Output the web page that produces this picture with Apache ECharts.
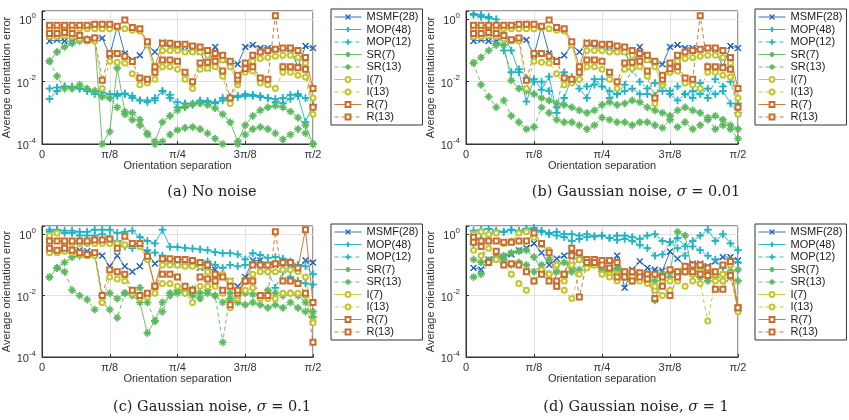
<!DOCTYPE html>
<html>
<head>
<meta charset="utf-8">
<script src="https://cdn.jsdelivr.net/npm/echarts@6/dist/echarts.min.js"></script>
<style>
html, body { margin: 0; padding: 0; background: #fff; }
#main { width: 849px; height: 420px; }
</style>
</head>
<body>
<div id="main"></div>
<script>
// orientation separation in degrees (0 .. pi/2)
var sep = [2.5,5,7.5,10,12.5,15,17.5,20,22.5,25,27.5,30,32.5,35,37.5,40,42.5,45,47.5,50,52.5,55,57.5,60,62.5,65,67.5,70,72.5,75,77.5,80,82.5,85,87.5,90];
var xTickLabels = ['0', 'π/8', 'π/4', '3π/8', 'π/2'];
var seriesNames = ['MSMF(28)', 'MOP(48)', 'MOP(12)', 'SR(7)', 'SR(13)', 'I(7)', 'I(13)', 'R(7)', 'R(13)'];
var captions = ['(a) No noise', '(b) Gaussian noise, ', '(c) Gaussian noise, ', '(d) Gaussian noise, '];
var sigmas = ['', '0.01', '0.1', '1'];

// (a) no noise
var msmfA = [0.2,0.22,0.2,0.2,0.25,0.22,0.25,0.25,0.07,0.6,0.08,0.05,0.07,0.15,0.09,0.18,0.12,0.12,0.1,0.1,0.09,0.027,0.13,0.05,0.04,0.036,0.13,0.15,0.12,0.12,0.11,0.12,0.11,0.03,0.14,0.12];
var mop48A = [0.0028,0.005,0.007,0.007,0.006,0.005,0.004,0.0035,0.003,0.0035,0.004,0.0035,0.0025,0.0025,0.0025,0.005,0.003,0.0015,0.0015,0.0018,0.0022,0.0022,0.002,0.0025,0.003,0.0032,0.0035,0.0035,0.0035,0.003,0.0028,0.002,0.0028,0.0035,0.0005,0.0018];
var mop12A = [0.006,0.0065,0.007,0.0065,0.006,0.0055,0.005,0.0045,0.004,0.004,0.0042,0.003,0.0025,0.0022,0.003,0.005,0.0038,0.0022,0.002,0.002,0.0025,0.0024,0.0022,0.003,0.0032,0.0035,0.004,0.0038,0.0032,0.003,0.0022,0.003,0.0038,0.004,0.003,0.0015];
var sr7A = [0.045,0.09,0.13,0.17,0.2,0.23,0.25,0.0001,0.00025,0.027,0.0011,0.001,0.0006,0.00022,0.00012,0.0005,0.0008,0.0012,0.0016,0.0019,0.002,0.0018,0.0014,0.0009,0.0005,0.00012,0.0004,0.0008,0.0012,0.0015,0.0017,0.0015,0.0011,0.0007,0.0004,0.0001];
var sr13A = [0.045,0.015,0.006,0.006,0.008,0.006,0.005,0.0033,0.003,0.0015,0.0009,0.0006,0.0004,0.0002,0.0001,0.00012,0.0002,0.00028,0.00033,0.00035,0.0003,0.00022,0.00015,0.0001,0.00006,0.0001,0.0002,0.0003,0.00035,0.0003,0.00022,0.00014,0.0002,0.0003,0.00022,0.0001];
var i7A = [0.5,0.5,0.5,0.5,0.5,0.5,0.5,0.5,0.5,0.55,0.5,0.45,0.42,0.15,0.02,0.1,0.1,0.1,0.09,0.09,0.09,0.07,0.05,0.05,0.03,0.008,0.03,0.045,0.055,0.06,0.065,0.07,0.07,0.06,0.04,0.003];
var i13A = [0.28,0.28,0.3,0.28,0.24,0.2,0.2,0.006,0.045,0.042,0.04,0.018,0.008,0.009,0.012,0.03,0.03,0.025,0.012,0.006,0.025,0.027,0.03,0.015,0.002,0.01,0.02,0.022,0.009,0.008,0.006,0.02,0.02,0.016,0.014,0.0009];
var r7A = [0.65,0.65,0.65,0.65,0.65,0.65,0.7,0.7,0.7,0.6,0.95,0.55,0.5,0.19,0.03,0.17,0.17,0.16,0.16,0.14,0.13,0.1,0.08,0.07,0.045,0.012,0.04,0.07,0.09,0.1,0.11,0.12,0.12,0.1,0.06,0.006];
var r13A = [0.35,0.35,0.38,0.35,0.3,0.22,0.25,0.011,0.08,0.08,0.065,0.044,0.013,0.012,0.02,0.05,0.05,0.045,0.02,0.01,0.04,0.042,0.045,0.022,0.003,0.016,0.026,0.03,0.013,0.012,1.3,0.03,0.03,0.028,0.025,0.0015];

// (b) sigma = 0.01
var msmfB = [0.2,0.22,0.2,0.2,0.25,0.22,0.25,0.22,0.07,0.6,0.08,0.05,0.07,0.15,0.09,0.18,0.12,0.12,0.1,0.1,0.09,0.03,0.13,0.05,0.04,0.036,0.13,0.15,0.12,0.12,0.11,0.12,0.11,0.03,0.14,0.12];
var mop48B = [1.4,1.2,1.1,1.0,0.3,0.1,0.02,0.0023,0.012,0.0055,0.0145,0.001,0.003,0.014,0.006,0.003,0.012,0.007,0.005,0.004,0.005,0.006,0.004,0.004,0.0035,0.008,0.004,0.0025,0.004,0.005,0.004,0.006,0.004,0.005,0.002,0.001];
var mop12B = [1.5,1.4,1.2,0.3,0.1,0.02,0.025,0.013,0.01,0.01,0.005,0.0015,0.02,0.01,0.012,0.007,0.008,0.012,0.003,0.004,0.008,0.025,0.01,0.006,0.009,0.005,0.005,0.007,0.004,0.003,0.009,0.003,0.012,0.007,0.01,0.002];
var sr7B = [0.04,0.06,0.1,0.15,0.15,0.011,0.006,0.005,0.004,0.003,0.0025,0.002,0.0018,0.0015,0.0012,0.001,0.0012,0.0018,0.0022,0.0018,0.002,0.0025,0.0022,0.0015,0.0012,0.001,0.0008,0.0012,0.0015,0.0012,0.001,0.0006,0.0008,0.0006,0.0004,0.0003];
var sr13B = [0.04,0.008,0.0033,0.0015,0.0025,0.0008,0.0005,0.0003,0.00035,0.0015,0.001,0.0006,0.0005,0.0005,0.0004,0.0003,0.0004,0.0007,0.0006,0.0005,0.0005,0.0004,0.0005,0.0005,0.0004,0.00033,0.0006,0.00035,0.0005,0.0003,0.0004,0.0007,0.0003,0.0004,0.0003,0.00015];
var i7B = [0.5,0.5,0.5,0.5,0.5,0.5,0.5,0.5,0.5,0.55,0.5,0.45,0.42,0.15,0.02,0.1,0.1,0.1,0.09,0.09,0.09,0.07,0.05,0.05,0.03,0.008,0.03,0.045,0.055,0.06,0.065,0.07,0.07,0.06,0.04,0.003];
var i13B = [0.28,0.28,0.3,0.28,0.24,0.2,0.2,0.006,0.045,0.042,0.04,0.018,0.008,0.009,0.012,0.03,0.03,0.025,0.012,0.006,0.025,0.027,0.03,0.015,0.002,0.01,0.02,0.022,0.009,0.008,0.006,0.02,0.02,0.016,0.014,0.0009];
var r7B = [0.65,0.65,0.65,0.65,0.65,0.65,0.7,0.7,0.7,0.6,0.95,0.55,0.5,0.19,0.03,0.17,0.17,0.16,0.16,0.14,0.13,0.1,0.08,0.07,0.045,0.012,0.04,0.07,0.09,0.1,0.11,0.12,0.12,0.1,0.06,0.006];
var r13B = [0.35,0.35,0.38,0.35,0.3,0.22,0.25,0.011,0.08,0.08,0.065,0.044,0.013,0.012,0.02,0.05,0.05,0.045,0.02,0.01,0.04,0.042,0.045,0.022,0.003,0.016,0.026,0.03,0.013,0.012,1.3,0.03,0.03,0.028,0.025,0.0015];

// (c) sigma = 0.1
var msmfC = [0.3,0.3,0.3,0.3,0.3,0.28,0.25,0.2,0.09,0.2,0.09,0.06,0.09,0.25,0.11,0.16,0.12,0.1,0.1,0.1,0.08,0.07,0.07,0.04,0.03,0.02,0.04,0.14,0.14,0.1,0.1,0.09,0.1,0.07,0.14,0.12];
var mop48C = [1.4,1.4,1.3,1.3,1.2,1.2,1.4,1.4,1.4,1.1,1.2,1.3,0.8,0.6,0.5,1.4,0.39,0.38,0.36,0.34,0.32,0.3,0.26,0.24,0.24,0.22,0.15,0.24,0.21,0.17,0.18,0.16,0.13,0.1,0.09,0.05];
var mop12C = [1.2,1.3,1.1,1.1,0.9,0.9,0.9,1.0,0.8,0.6,0.4,0.35,0.5,0.3,0.25,0.2,0.11,0.1,0.12,0.1,0.1,0.13,0.1,0.08,0.1,0.09,0.1,0.12,0.1,0.06,0.018,0.06,0.04,0.03,0.025,0.023];
var sr7C = [0.04,0.08,0.12,0.18,0.2,0.22,0.22,0.01,0.012,0.008,0.012,0.01,0.006,0.0006,0.0015,0.006,0.01,0.012,0.012,0.01,0.008,0.012,0.01,0.006,0.008,0.006,0.005,0.006,0.005,0.004,0.005,0.004,0.006,0.004,0.003,0.003];
var sr13C = [0.04,0.08,0.06,0.015,0.01,0.0074,0.0035,0.006,0.0035,0.0019,0.012,0.012,0.018,0.006,0.0015,0.003,0.012,0.015,0.014,0.016,0.012,0.015,0.01,0.0003,0.012,0.012,0.012,0.011,0.01,0.015,0.012,0.01,0.012,0.01,0.006,0.002];
var i7C = [0.9,1.1,0.5,0.5,0.5,0.5,0.5,0.5,0.5,0.5,0.45,0.45,0.4,0.15,0.02,0.1,0.1,0.1,0.09,0.09,0.09,0.06,0.05,0.05,0.03,0.008,0.03,0.05,0.06,0.06,0.06,0.07,0.07,0.06,0.04,0.0014];
var i13C = [0.25,0.25,0.28,0.25,0.22,0.2,0.2,0.006,0.04,0.035,0.03,0.012,0.008,0.009,0.012,0.025,0.025,0.02,0.012,0.006,0.02,0.02,0.02,0.012,0.004,0.01,0.015,0.018,0.008,0.008,0.008,0.012,0.012,0.012,0.01,0.0013];
var r7C = [0.6,0.6,0.6,0.6,0.6,0.6,0.65,0.65,0.7,0.35,0.85,0.5,0.5,0.19,0.02,0.16,0.16,0.15,0.15,0.14,0.12,0.1,0.05,0.04,0.02,0.012,0.03,0.1,0.1,0.1,0.11,0.12,0.12,0.08,1.4,0.006];
var r13C = [0.35,0.3,0.35,0.3,0.25,0.22,0.25,0.01,0.07,0.06,0.05,0.015,0.01,0.012,0.02,0.05,0.05,0.04,0.02,0.015,0.04,0.035,0.03,0.015,0.005,0.015,0.03,0.03,0.01,0.01,1.2,0.03,0.03,0.025,0.012,0.0003];

// (d) sigma = 1
var msmfD = [0.08,0.07,0.15,0.16,0.18,0.22,0.3,0.35,0.5,0.25,0.1,0.16,0.2,0.3,0.2,0.15,0.1,0.1,0.08,0.2,0.018,0.07,0.13,0.08,0.07,0.065,0.27,0.16,0.09,0.11,0.11,0.09,0.13,0.18,0.18,0.14];
var mop48D = [1.3,1.4,1.5,1.3,1.2,1.4,1.2,1.5,1.4,1.3,1.1,1.2,1.0,1.0,0.9,1.0,0.85,0.9,0.75,0.9,0.9,0.8,0.7,0.9,1.0,0.6,0.55,0.75,0.4,0.6,0.9,1.4,0.6,1.0,0.5,0.3];
var mop12D = [0.5,0.7,1.0,1.2,1.2,1.4,1.3,1.5,1.6,1.2,1.0,0.9,0.8,0.6,0.7,0.8,0.85,0.9,0.75,0.65,0.7,0.6,0.45,0.35,0.2,0.22,0.55,0.35,0.2,0.4,0.3,0.2,0.15,0.08,0.15,0.12];
var sr7D = [0.15,0.12,0.14,0.17,0.2,0.25,0.28,0.3,0.18,0.07,0.15,0.1,0.12,0.08,0.15,0.09,0.12,0.07,0.06,0.08,0.05,0.04,0.05,0.05,0.007,0.05,0.06,1.2,0.9,0.05,0.08,0.06,0.04,0.05,0.06,0.07];
var sr13D = [0.04,0.05,0.12,0.18,0.15,0.1,0.12,0.1,0.06,0.1,0.05,0.06,0.04,0.06,0.07,0.12,0.1,0.06,0.05,0.07,0.04,0.03,0.05,0.04,0.03,0.05,0.04,0.05,0.06,0.1,0.04,0.03,0.05,0.03,0.04,0.03];
var i7D = [1.0,1.2,1.0,1.1,0.5,0.6,1.1,1.2,0.8,0.45,0.3,0.1,0.03,0.1,0.15,0.12,0.1,0.1,0.05,0.05,0.06,0.04,0.04,0.05,0.015,0.03,0.03,0.06,0.06,0.05,0.06,0.05,0.05,0.03,0.1,0.0035];
var i13D = [0.3,0.2,0.35,0.15,0.1,0.05,0.025,0.015,0.03,0.07,0.05,0.02,0.015,0.008,0.05,0.08,0.1,0.05,0.04,0.03,0.05,0.04,0.03,0.025,0.02,0.01,0.015,0.03,0.02,0.03,0.025,0.0015,0.03,0.05,0.05,0.003];
var r7D = [0.8,0.6,0.6,0.6,0.55,0.55,0.6,0.6,1.1,0.5,0.25,0.03,0.05,0.2,0.25,0.15,0.15,0.14,0.14,0.12,0.06,0.06,0.055,0.05,0.05,0.04,0.07,0.06,0.09,0.1,0.1,0.08,0.06,0.1,0.13,0.004];
var r13D = [0.55,0.4,0.12,0.28,0.1,0.11,0.1,0.06,0.03,0.05,0.03,0.02,0.05,0.35,0.009,0.12,0.12,0.1,0.08,0.04,0.04,0.03,0.04,0.035,0.008,0.02,0.01,0.04,0.06,0.06,0.05,0.045,0.016,0.016,0.045,0.004];

var panelData = [
    [msmfA, mop48A, mop12A, sr7A, sr13A, i7A, i13A, r7A, r13A],
    [msmfB, mop48B, mop12B, sr7B, sr13B, i7B, i13B, r7B, r13B],
    [msmfC, mop48C, mop12C, sr7C, sr13C, i7C, i13C, r7C, r13C],
    [msmfD, mop48D, mop12D, sr7D, sr13D, i7D, i13D, r7D, r13D]
];

var PLUS = 'path://M4.4,0H5.6V4.4H10V5.6H5.6V10H4.4V5.6H0V4.4H4.4Z';
var CROSS = 'path://M0.8,0L5,4.2L9.2,0L10,0.8L5.8,5L10,9.2L9.2,10L5,5.8L0.8,10L0,9.2L4.2,5L0,0.8Z';
var STAR = 'path://M4.4,0H5.6V4.4H10V5.6H5.6V10H4.4V5.6H0V4.4H4.4Z' +
    'M2,1.4L5,4.4L8,1.4L8.6,2L5.6,5L8.6,8L8,8.6L5,5.6L2,8.6L1.4,8L4.4,5L1.4,2Z';

var looks = [
    { color: '#1f64bd', symbol: CROSS, size: 6, dash: false },
    { color: '#1fb3c4', symbol: PLUS, size: 7, dash: false },
    { color: '#1fb3c4', symbol: PLUS, size: 7, dash: true },
    { color: '#5cba5e', symbol: STAR, size: 7, dash: false },
    { color: '#5cba5e', symbol: STAR, size: 7, dash: true },
    { color: '#c4c52b', symbol: 'emptyCircle', size: 5, dash: false },
    { color: '#c4c52b', symbol: 'emptyCircle', size: 5, dash: true },
    { color: '#c96d2c', symbol: 'emptyRect', size: 5, dash: false },
    { color: '#c96d2c', symbol: 'emptyRect', size: 5, dash: true }
];

var grids = [
    { left: 41, top: 11, width: 272, height: 133 },
    { left: 466, top: 11, width: 272, height: 133 },
    { left: 41, top: 226, width: 272, height: 131 },
    { left: 466, top: 226, width: 272, height: 131 }
];
var legendPos = [[331, 9], [755, 9], [331, 224], [755, 224]];
var captionPos = [[212, 192], [636, 192], [212, 407], [636, 407]];

var axisColor = '#333';
var gridColor = '#e2e2e2';

function fmtY(v) {
    var l = Math.log(v) / Math.LN10;
    var e = Math.round(l);
    if (Math.abs(l - e) > 1e-3) return '';
    return '{b|10}{s|' + e + '}';
}

function fmtX(v) {
    var idx = Math.round(v / 22.5);
    return xTickLabels[idx] || '';
}

var option = {
    animation: false,
    backgroundColor: '#fff',
    textStyle: { fontFamily: 'Liberation Sans, Arial, sans-serif' },
    grid: [],
    xAxis: [],
    yAxis: [],
    legend: [],
    series: [],
    graphic: []
};

for (var p = 0; p < 4; p++) {
    option.grid.push({
        left: grids[p].left, top: grids[p].top, width: grids[p].width, height: grids[p].height,
        show: true, borderColor: axisColor, borderWidth: 1, backgroundColor: '#fff'
    });
    option.xAxis.push({
        type: 'value', gridIndex: p, min: 0, max: 90, interval: 22.5,
        name: 'Orientation separation', nameLocation: 'middle', nameGap: 16,
        nameTextStyle: { fontSize: 11, color: axisColor },
        axisLine: { show: true, lineStyle: { color: axisColor } },
        axisTick: { show: true, inside: true, length: 3, lineStyle: { color: axisColor } },
        axisLabel: { formatter: fmtX, fontSize: 11, color: axisColor, margin: 5 },
        splitLine: { show: true, lineStyle: { color: gridColor } }
    });
    option.yAxis.push({
        type: 'log', logBase: 10, gridIndex: p, min: 1e-4, max: 1.85, interval: 2,
        name: 'Average orientation error', nameLocation: 'middle', nameGap: 30,
        nameTextStyle: { fontSize: 11, color: axisColor },
        axisLine: { show: true, lineStyle: { color: axisColor } },
        axisTick: { show: true, inside: true, length: 3, lineStyle: { color: axisColor } },
        axisLabel: {
            formatter: fmtY, margin: 6, color: axisColor,
            rich: {
                b: { fontSize: 11, color: axisColor, verticalAlign: 'bottom' },
                s: { fontSize: 8, color: axisColor, verticalAlign: 'bottom', padding: [0, 0, 7, 0] }
            }
        },
        splitLine: { show: true, lineStyle: { color: gridColor } }
    });
    option.legend.push({
        orient: 'vertical',
        left: legendPos[p][0], top: legendPos[p][1],
        data: seriesNames,
        itemWidth: 27, itemHeight: 6, itemGap: 0.5,
        padding: [2, 4, 2, 3],
        borderColor: axisColor, borderWidth: 1, borderRadius: 0,
        backgroundColor: '#fff',
        selectedMode: false,
        lineStyle: { width: 1 },
        itemStyle: { borderWidth: 1 },
        textStyle: { fontSize: 11, color: '#222', lineHeight: 12 }
    });
    for (var s = 0; s < 9; s++) {
        var vals = panelData[p][s];
        var look = looks[s];
        option.series.push({
            type: 'line',
            name: seriesNames[s],
            xAxisIndex: p, yAxisIndex: p,
            data: sep.map(function (x, i) { return [x, vals[i]]; }),
            symbol: look.symbol,
            symbolSize: look.size,
            showAllSymbol: true,
            lineStyle: { color: look.color, width: 1, type: look.dash ? [4, 3] : 'solid', opacity: 0.9 },
            itemStyle: { color: look.color, borderColor: look.color, borderWidth: 1 },
            emphasis: { disabled: true }
        });
    }
    var capText = p === 0 ? '{n|' + captions[p] + '}' :
        '{n|' + captions[p] + '}{i|σ}{n| = ' + sigmas[p] + '}';
    option.graphic.push({
        type: 'text',
        x: captionPos[p][0], y: captionPos[p][1],
        style: {
            text: capText,
            align: 'center', verticalAlign: 'middle',
            rich: {
                n: { fontFamily: 'DejaVu Serif', fontSize: 14.5, fill: '#222' },
                i: { fontFamily: 'DejaVu Serif', fontStyle: 'italic', fontSize: 14.5, fill: '#222' }
            }
        }
    });
}

var chart = echarts.init(document.getElementById('main'));
chart.setOption(option);
</script>
</body>
</html>
